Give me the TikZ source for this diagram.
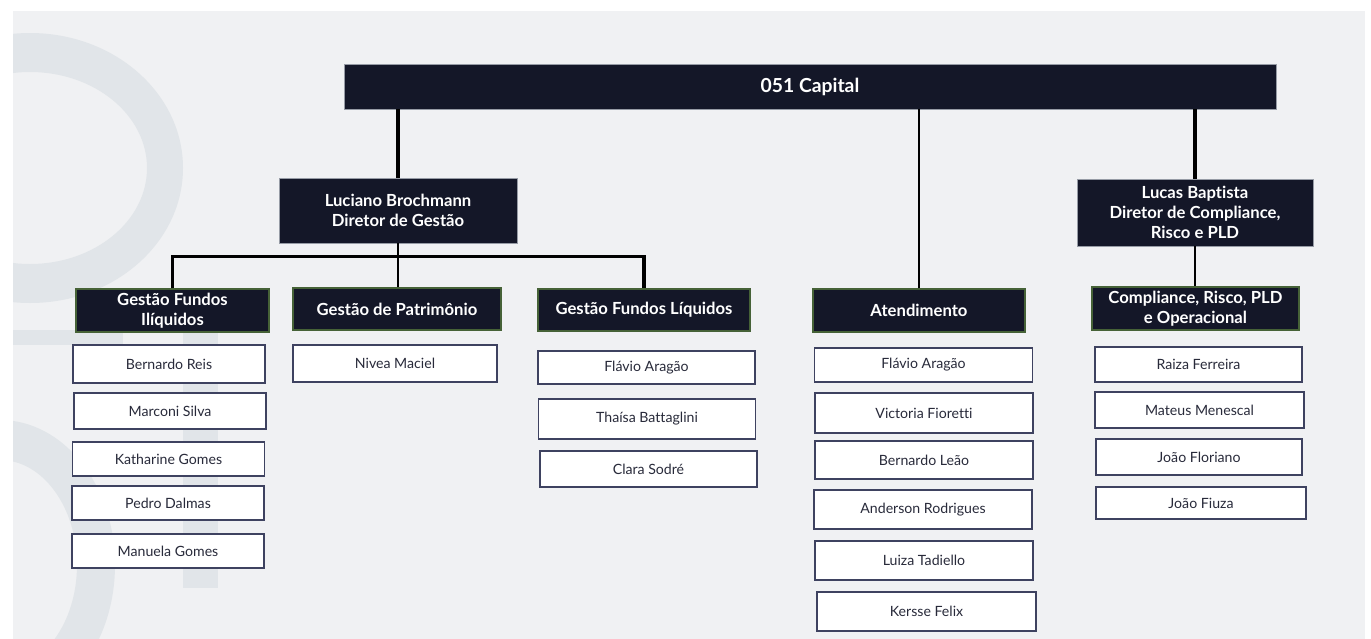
\documentclass[tikz,border=0pt]{standalone}
\usepackage{fontspec}
\setmainfont{Lato}[Ligatures=NoCommon]

\begin{document}
\begin{tikzpicture}[x=0.75pt,y=0.75pt,yscale=-1,xscale=1,
  wm/.style={fill={rgb, 255:red, 225; green, 229; blue, 233 }},
  topbox/.style={fill={rgb, 255:red, 20; green, 23; blue, 40 }, draw={rgb, 255:red, 150; green, 155; blue, 165 }, line width=0.5, text=white, inner sep=0pt, align=center},
  headbox/.style={topbox, font=\fontsize{12.5}{15}\selectfont\bfseries},
  unitbox/.style={headbox, draw={rgb, 255:red, 70; green, 98; blue, 55 }, line width=0.9},
  person/.style={fill=white, draw={rgb, 255:red, 62; green, 66; blue, 96 }, line width=1.1, text={rgb, 255:red, 40; green, 42; blue, 58 }, inner sep=0pt, font=\fontsize{10.6}{12}\selectfont, minimum height=27pt},
  thicklink/.style={line width=2.3},
  thinlink/.style={line width=1.5}
]
\useasboundingbox (0,0) rectangle (1371,639);
\fill[white] (0,0) rectangle (1371,639);

%Shape: Background
\fill[fill={rgb, 255:red, 240; green, 241; blue, 243 }] (13,11) rectangle (1365,639);
\begin{scope}
\clip (13,11) rectangle (1365,639);
\fill[wm, even odd rule] (30,168) ellipse [x radius=153, y radius=135] (30,168) ellipse [x radius=117, y radius=96];
\fill[wm] (13,330) rectangle (123,345);
\fill[wm] (183,330) rectangle (218,588);
\fill[wm, even odd rule] (0,565) ellipse [x radius=115, y radius=145] (0,565) ellipse [x radius=77, y radius=105];
\end{scope}

% Text Node
\node[topbox, minimum width=699pt, minimum height=33.75pt, font=\fontsize{14.5}{17}\selectfont\bfseries] (cap) at (810,86.5) {051 Capital};
% Text Node
\node[headbox, minimum width=178.5pt, minimum height=48.75pt] (luc) at (398,210.5) {Luciano Brochmann\\Diretor de Gestão};
% Text Node
\node[headbox, minimum width=177pt, minimum height=50.25pt] (lucas) at (1195,212.5) {Lucas Baptista\\Diretor de Compliance,\\Risco e PLD};

% Text Node
\node[unitbox, minimum width=144.75pt, minimum height=32.25pt] (gfi) at (172.5,310.5) {Gestão Fundos\\Ilíquidos};
% Text Node
\node[unitbox, minimum width=156pt, minimum height=31.5pt] (gpat) at (397,309) {Gestão de Patrimônio};
% Text Node
\node[unitbox, minimum width=159pt, minimum height=31.5pt] (gfl) at (644,310) {Gestão Fundos Líquidos};
% Text Node
\node[unitbox, minimum width=159pt, minimum height=32.25pt] (aten) at (919,310.5) {Atendimento};
% Text Node
\node[unitbox, minimum width=155.25pt, minimum height=32.25pt] (comp) at (1195.5,308.5) {Compliance, Risco, PLD\\e Operacional};

%Straight Lines
\draw[thicklink] (luc.north) -- (luc.north |- cap.south);
\draw[thinlink] (luc.south) -- (luc.south |- gpat.north);
\draw[thicklink] (gfi.north) -- ++(0,-32) -| (gfl.north);
\draw[thinlink] (aten.north) -- (aten.north |- cap.south);
\draw[thicklink] (lucas.north) -- (lucas.north |- cap.south);
\draw[thinlink] (lucas.south) -- (lucas.south |- comp.north);

% Text Node
\node[person, minimum width=144pt, minimum height=28.5pt] (gfi1) at (169,364) {Bernardo Reis};
\node[person, minimum width=144pt] (gfi2) at (170,411) {Marconi Silva};
\node[person, minimum width=144pt, minimum height=25.5pt] (gfi3) at (168.5,459) {Katharine Gomes};
\node[person, minimum width=144pt, minimum height=25.5pt] (gfi4) at (168,503) {Pedro Dalmas};
\node[person, minimum width=144pt, minimum height=25.5pt] (gfi5) at (168,551) {Manuela Gomes};

% Text Node
\node[person, minimum width=153pt, minimum height=27.75pt] (gpat1) at (395,363.5) {Nivea Maciel};

% Text Node
\node[person, minimum width=162.75pt, minimum height=24.75pt] (gfl1) at (646.5,367.5) {Flávio Aragão};
\node[person, minimum width=162.75pt, minimum height=30pt] (gfl2) at (647,419) {Thaísa Battaglini};
\node[person, minimum width=162.75pt] (gfl3) at (648.5,469) {Clara Sodré};

% Text Node
\node[person, minimum width=163.5pt, minimum height=25.5pt] (aten1) at (923.5,365) {Flávio Aragão};
\node[person, minimum width=163.5pt, minimum height=30pt] (aten2) at (924,413) {Victoria Fioretti};
\node[person, minimum width=163.5pt, minimum height=28.5pt] (aten3) at (924,460) {Bernardo Leão};
\node[person, minimum width=163.5pt, minimum height=29.25pt] (aten4) at (923,509.5) {Anderson Rodrigues};
\node[person, minimum width=163.5pt, minimum height=29.25pt] (aten5) at (924,560.5) {Luiza Tadiello};
\node[person, minimum width=164.25pt, minimum height=29.25pt] (aten6) at (926.5,611.5) {Kersse Felix};

% Text Node
\node[person, minimum width=155.25pt, minimum height=26.25pt] (comp1) at (1198.5,364.5) {Raiza Ferreira};
\node[person, minimum width=156.75pt] (comp2) at (1199.5,410) {Mateus Menescal};
\node[person, minimum width=154.5pt] (comp3) at (1199,457) {João Floriano};
\node[person, minimum width=157.5pt, minimum height=24pt] (comp4) at (1201,503) {João Fiuza};

\end{tikzpicture}
\end{document}
